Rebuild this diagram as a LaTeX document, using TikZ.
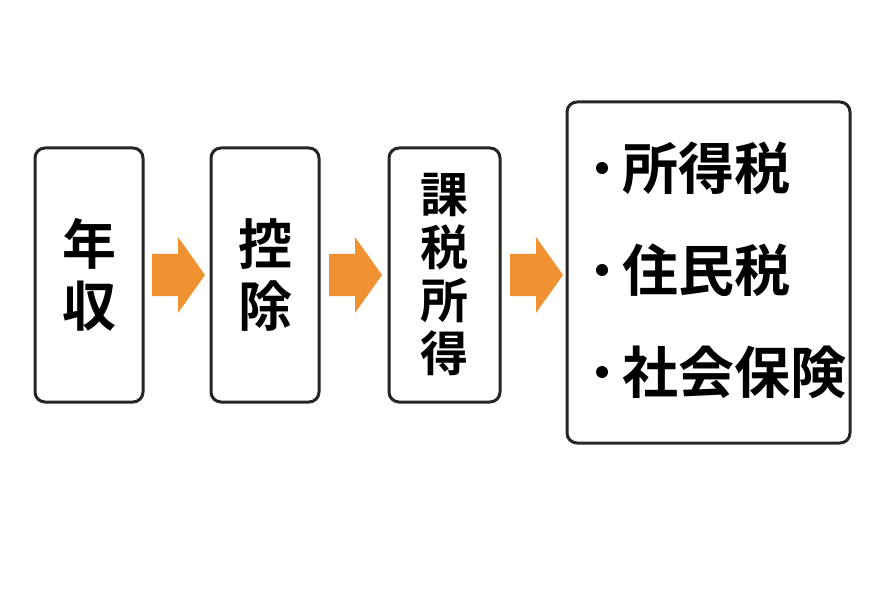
\documentclass[tikz,border=0pt]{standalone}
\usepackage{fontspec}
\newfontfamily\jp{Noto Sans CJK JP Bold}
\definecolor{org}{RGB}{240,146,50}
\begin{document}
\begin{tikzpicture}[x=1pt,y=-1pt,
 box/.style={draw=black!85,line width=3pt,rounded corners=10pt},
 arr/.style={fill=org,draw=none},
 txt/.style={font=\jp\fontsize{54}{62}\selectfont,align=center,inner sep=0pt}]
\fill[white] (0,0) rectangle (890,593);
\useasboundingbox (0,0) rectangle (890,593);
\draw[box] (35,148) rectangle (143,402) node[midway,txt] (a) {年\\収};
\draw[box] (211,148) rectangle (319,402) node[midway,txt] (b) {控\\除};
\draw[box] (389,148) rectangle (500,402) node[midway,txt,font=\jp\fontsize{48}{53}\selectfont] (c) {課\\税\\所\\得};
\draw[box] (567,102) rectangle (850,443);
\foreach \x in {152,329,510}{
 \fill[arr] (\x,254) -- (\x+26,254) -- (\x+26,237) -- (\x+53,275) -- (\x+26,313) -- (\x+26,296) -- (\x,296) -- cycle;}
\foreach \y/\t/\n in {168/所得税/d1,270/住民税/d2,372/社会保険/d3}{
 \fill (602,\y) circle (6pt);
 \node[txt,anchor=west,font=\jp\fontsize{56}{60}\selectfont] (\n) at (622,\y) {\t};}
\end{tikzpicture}
\end{document}
